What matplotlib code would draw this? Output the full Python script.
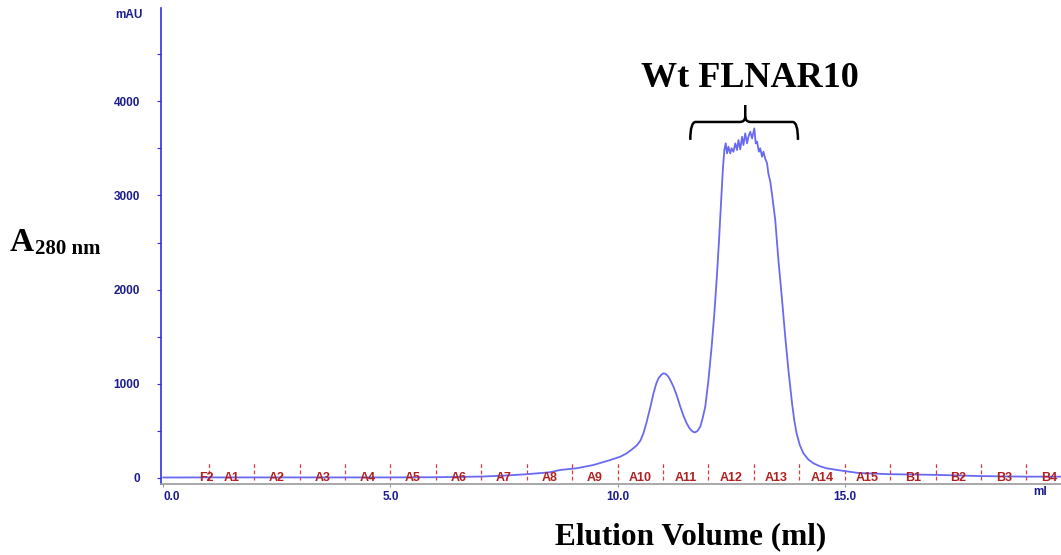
#%% Imports

import numpy as np
import matplotlib
matplotlib.use('Agg')
import matplotlib.pyplot as plt
from matplotlib.path import Path
import matplotlib.patches as patches


#%% Data

elution_ml = [0.0, 1.0, 2.0, 3.0, 4.0, 5.0, 6.0, 7.0, 7.5, 8.0, 8.5, 8.74, 9.10, 9.47,
              9.84, 10.06, 10.20, 10.32, 10.42, 10.50, 10.57, 10.64, 10.72, 10.79, 10.85,
              10.90, 10.96, 11.01, 11.06, 11.12, 11.17, 11.23, 11.30, 11.38, 11.45, 11.52,
              11.58, 11.63, 11.67, 11.71, 11.76, 11.82, 11.87, 11.93, 12.00, 12.07, 12.13,
              12.18, 12.23, 12.28, 12.32, 12.35, 12.38, 12.41, 12.44,
              12.48, 12.51, 12.55, 12.59, 12.63, 12.66, 12.70, 12.74, 12.77, 12.81, 12.85,
              12.88, 12.92, 12.96, 13.01, 13.04, 13.07, 13.11, 13.14, 13.18, 13.21, 13.25,
              13.29, 13.32, 13.36, 13.40, 13.47, 13.54, 13.62, 13.69, 13.76, 13.84, 13.89,
              13.94, 14.01, 14.09, 14.20, 14.31, 14.45, 14.60, 14.90, 15.3, 16.0, 17.0,
              18.0, 19.0, 19.75]
absorbance_mau = [5, 6, 6, 6, 6, 6, 8, 15, 25, 40, 60, 85, 103, 138,
                  191, 226, 262, 305, 345, 395, 475, 595, 750, 899, 1000,
                  1058, 1095, 1111, 1105, 1075, 1030, 969, 880, 757, 660, 581,
                  530, 502, 488, 485, 500, 545, 630, 757, 1040, 1394, 1748,
                  2102, 2500, 2950, 3300, 3480, 3553, 3447, 3517,
                  3447, 3500, 3464, 3553, 3482, 3588, 3489, 3623, 3535, 3659, 3553,
                  3623, 3676, 3606, 3712, 3553, 3570, 3464, 3500, 3411, 3464, 3390,
                  3341, 3230, 3150, 3010, 2739, 2314, 1890, 1500, 1146, 793, 610,
                  475, 350, 262, 195, 156, 125, 103, 80, 53, 40, 33,
                  20, 14, 14]

fraction_bounds = [1, 2, 3, 4, 5, 6, 7, 8, 9, 10, 11, 12, 13, 14, 15, 16, 17, 18, 19]
fraction_labels = ['F2', 'A1', 'A2', 'A3', 'A4', 'A5', 'A6', 'A7', 'A8', 'A9', 'A10',
                   'A11', 'A12', 'A13', 'A14', 'A15', 'B1', 'B2', 'B3', 'B4']
fraction_label_pos = [0.95] + [b + 0.5 for b in fraction_bounds]

x_ticks = [0.0, 5.0, 10.0, 15.0]
y_ticks = [0, 1000, 2000, 3000, 4000]

peak_label = 'Wt FLNAR10'


#%% Figure

W, H = 1061, 555
fig = plt.figure(figsize=(W / 100.0, H / 100.0), dpi=100)

# axes box in pixels: left 161, right 1061, top 8, bottom 484
ax = fig.add_axes([161.0 / W, (H - 484.0) / H, 900.0 / W, 476.0 / H])
ax.set_xlim(-0.05, 19.76)
ax.set_ylim(-64, 4990)

tick_blue = '#1c1c8c'
frac_red = '#b02020'
small_font = dict(fontsize=8.5, fontweight='bold', family='Liberation Sans')

ax.plot(elution_ml, absorbance_mau, color='#6a6af0', linewidth=1.3, zorder=3)

# Fraction marks
for b in fraction_bounds:
    ax.plot([b, b], [-20, 160], color='#e03a3a', linewidth=0.9,
            linestyle=(0, (3, 2)), zorder=2)
for pos, lab in zip(fraction_label_pos, fraction_labels):
    ax.text(pos, 0, lab, color=frac_red, ha='center', va='center', zorder=4,
            fontsize=9, fontweight='bold', family='Liberation Sans')

# Spines
for side in ['top', 'right']:
    ax.spines[side].set_visible(False)
ax.spines['left'].set_color('#3030e0')
ax.spines['left'].set_linewidth(1.2)
ax.spines['bottom'].set_color('#999999')
ax.spines['bottom'].set_linewidth(1.2)

# Y ticks
ax.set_yticks(y_ticks)
ax.set_yticks(np.arange(500, 5000, 1000), minor=True)
ax.set_yticklabels([str(v) for v in y_ticks], color=tick_blue, **small_font)
ax.tick_params(axis='y', which='both', direction='out', color='#3030e0',
               length=3, width=0.8, pad=12)

# X ticks (first label starts at the axis, the rest are centred)
ax.set_xticks(x_ticks)
ax.set_xticklabels(['%.1f' % v for v in x_ticks], color=tick_blue, **small_font)
ax.get_xticklabels()[0].set_horizontalalignment('left')
ax.tick_params(axis='x', which='both', direction='out', color='#999999',
               length=2, width=0.8, pad=3)

fig.text(143.0 / W, 1 - 15.0 / H, 'mAU', color=tick_blue, ha='right', va='center',
         **small_font)
fig.text(1040.0 / W, 1 - 492.0 / H, 'ml', color=tick_blue, ha='center', va='center',
         **small_font)

# Bracket over the main peak
xl, xr, xc = 11.6, 13.97, 12.81
yh, ye, yt = 3780, 3590, 3960
dx, dy = 0.12, 60
verts = [(xl, ye), (xl, yh), (xl + dx, yh),
         (xc - dx, yh), (xc, yh), (xc, yh + dy), (xc, yt)]
codes = [Path.MOVETO, Path.CURVE3, Path.CURVE3,
         Path.LINETO, Path.CURVE3, Path.CURVE3, Path.LINETO]
verts2 = [(xr, ye), (xr, yh), (xr - dx, yh),
          (xc + dx, yh), (xc, yh), (xc, yh + dy)]
codes2 = [Path.MOVETO, Path.CURVE3, Path.CURVE3,
          Path.LINETO, Path.CURVE3, Path.CURVE3]
for v, c in [(verts, codes), (verts2, codes2)]:
    ax.add_patch(patches.PathPatch(Path(v, c), facecolor='none', edgecolor='black',
                                   linewidth=1.8, clip_on=False, zorder=5))

ax.text(12.92, 4246, peak_label, fontsize=26, fontweight='bold',
        family='Liberation Serif', ha='center', va='center', clip_on=False)

# Axis titles
fig.text(10.0 / W, 1 - 251.0 / H, 'A', fontsize=24, fontweight='bold',
         family='Liberation Serif', ha='left', va='baseline')
fig.text(35.0 / W, 1 - 254.0 / H, '280 nm', fontsize=15, fontweight='bold',
         family='Liberation Serif', ha='left', va='baseline')
fig.text(691.0 / W, 1 - 537.0 / H, 'Elution Volume (ml)', fontsize=22.5,
         fontweight='bold', family='Liberation Serif', ha='center', va='center')

plt.savefig('out.png', dpi=100)
